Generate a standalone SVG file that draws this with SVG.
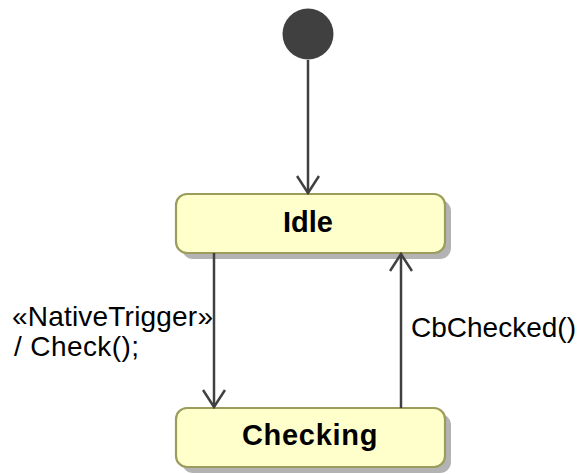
<svg xmlns="http://www.w3.org/2000/svg" width="582" height="474" viewBox="0 0 582 474">
<defs>
<style>
.shadow{fill:#b3b3b3;}
.state{fill:#ffffcc;stroke:#9c9c5c;stroke-width:2.2;}
.name{font-family:"Liberation Sans",Arial,sans-serif;font-weight:bold;font-size:29px;fill:#000;text-anchor:middle;}
.lbl{font-family:"Liberation Sans",Arial,sans-serif;font-size:28px;fill:#000;}
.edge{stroke:#404040;stroke-width:2.5;fill:none;}
</style>
<marker id="arr" viewBox="0 0 20 24" refX="18" refY="12" markerWidth="20" markerHeight="24" markerUnits="userSpaceOnUse" orient="auto">
<path d="M1,1 L18,12 L1,23" fill="none" stroke="#404040" stroke-width="2.5"/>
</marker>
</defs>
<rect width="582" height="474" fill="#fff"/>
<g id="initial">
<circle cx="308" cy="34" r="25.5" fill="#404040"/>
</g>
<g id="idle">
<rect class="shadow" x="182" y="200" width="269" height="59" rx="11"/>
<rect class="state" x="176" y="194" width="269" height="59" rx="11"/>
<text class="name" x="308" y="232">Idle</text>
</g>
<g id="checking">
<rect class="shadow" x="182" y="414" width="269" height="59" rx="11"/>
<rect class="state" x="176" y="408" width="269" height="59" rx="11"/>
<text class="name" x="310" y="445" letter-spacing="0.7">Checking</text>
</g>
<g id="connectors">
<line class="edge" x1="308" y1="60" x2="308" y2="193" marker-end="url(#arr)"/>
<line class="edge" x1="214" y1="253" x2="214" y2="407" marker-end="url(#arr)"/>
<line class="edge" x1="401" y1="408" x2="401" y2="254" marker-end="url(#arr)"/>
<text class="lbl" x="12" y="326" letter-spacing="0.2">«NativeTrigger»</text>
<text class="lbl" x="14" y="356" letter-spacing="0.4">/ Check();</text>
<text class="lbl" x="411" y="337">CbChecked()</text>
</g>
</svg>
